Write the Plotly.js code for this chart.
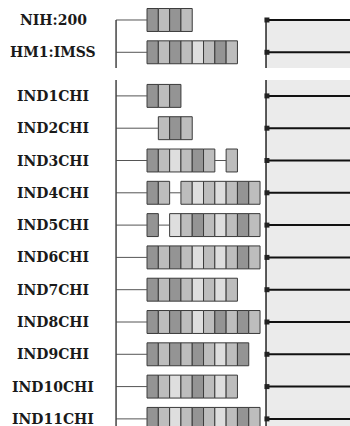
<!DOCTYPE html>
<html>
<head>
<meta charset="utf-8">
<script src="https://cdn.plot.ly/plotly-3.0.1.min.js"></script>
<style>html,body{margin:0;padding:0;background:#fff;}#chart{width:350px;height:426px;}</style>
</head>
<body>
<div id="chart"></div>
<script>
// Row labels
const labels = ['NIH:200','HM1:IMSS','IND1CHI','IND2CHI','IND3CHI','IND4CHI','IND5CHI',
  'IND6CHI','IND7CHI','IND8CHI','IND9CHI','IND10CHI','IND11CHI'];
// Start position (in segment units) of each segment of each row
const segStarts = [
  [0,1,2,3],
  [0,1,2,3,4,5,6,7],
  [0,1,2],
  [1,2,3],
  [0,1,2,3,4,5,7],
  [0,1,3,4,5,6,7,8,9],
  [0,2,3,4,5,6,7,8,9],
  [0,1,2,3,4,5,6,7,8,9],
  [0,1,2,3,4,5,6,7],
  [0,1,2,3,4,5,6,7,8,9],
  [0,1,2,3,4,5,6,7,8],
  [0,1,2,3,4,5,6,7],
  [0,1,2,3,4,5,6,7,8,9]
];
// Shade of each segment: D dark, L light, W very light
const segShades = [
  'DLDL',
  'DLDLWLDL',
  'DLD',
  'LDL',
  'DLWLDLL',
  'DLLWLWLDL',
  'DWLDLWLDL',
  'DLDLWLWLDL',
  'DLDLWLWL',
  'DLDLWLDLDL',
  'DLDLDLWLD',
  'DLWLDLWL',
  'DLWLDLWLDL'
];

const shadeColor = {D:'#949494', L:'#bdbdbd', W:'#dedede'};
const rowY = labels.map((_, i) => i + (i >= 2 ? 0.35 : 0));
const leftX = -2.74, rightX = 10.53, rightEnd = 18.2;

const by = [], bx = [], bbase = [], bcol = [];
const lx = [], ly = [];
const rx = [], ry = [];
labels.forEach((lab, i) => {
  const st = segStarts[i];
  st.forEach((s, k) => {
    by.push(rowY[i]); bx.push(1); bbase.push(s);
    bcol.push(shadeColor[segShades[i][k]]);
  });
  lx.push(leftX, st[0], null); ly.push(rowY[i], rowY[i], null);
  for (let k = 0; k < st.length - 1; k++) {
    if (st[k+1] > st[k] + 1) { lx.push(st[k] + 1, st[k+1], null); ly.push(rowY[i], rowY[i], null); }
  }
  rx.push(rightX, rightEnd, null); ry.push(rowY[i], rowY[i], null);
});

const traces = [
  {type:'scatter', mode:'lines', x:lx, y:ly, line:{color:'#555', width:1}, hoverinfo:'skip'},
  {type:'scatter', mode:'lines', x:rx, y:ry, line:{color:'#111', width:2}, hoverinfo:'skip'},
  {type:'scatter', mode:'markers', x:rowY.map(() => rightX + 0.08), y:rowY,
   marker:{symbol:'square', size:5, color:'#222'}, hoverinfo:'skip'},
  {type:'bar', orientation:'h', y:by, x:bx, base:bbase, width:0.71,
   marker:{color:bcol, line:{color:'#3a3a3a', width:1}}, hoverinfo:'skip'}
];

const g1 = [0, 1.49], g2 = [1.86, 13];
const shapes = [];
[g1, g2].forEach(g => {
  shapes.push({type:'rect', layer:'below', x0:rightX + 0.1, x1:rightEnd, y0:g[0], y1:g[1],
    fillcolor:'#ebebeb', line:{width:0}});
  shapes.push({type:'line', x0:leftX, x1:leftX, y0:g[0], y1:g[1], line:{color:'#444', width:1.5}});
  shapes.push({type:'line', x0:rightX, x1:rightX, y0:g[0], y1:g[1], line:{color:'#222', width:1.5}});
});

const annotations = labels.map((lab, i) => ({
  x:-8.32, y:rowY[i], xref:'x', yref:'y', text:'<b>' + lab + '</b>', showarrow:false,
  xanchor:'center', yanchor:'middle',
  font:{family:'DejaVu Serif, serif', size:14, color:'#1a1a1a'}
}));

const layout = {
  width:350, height:426, margin:{l:0, r:0, t:0, b:0},
  paper_bgcolor:'#fff', plot_bgcolor:'#fff', showlegend:false, barmode:'overlay',
  xaxis:{range:[-13.01, 17.96], visible:false, fixedrange:true},
  yaxis:{range:[12.57, -0.619], visible:false, fixedrange:true},
  shapes:shapes, annotations:annotations
};
Plotly.newPlot('chart', traces, layout, {displayModeBar:false, staticPlot:true});
</script>
</body>
</html>
